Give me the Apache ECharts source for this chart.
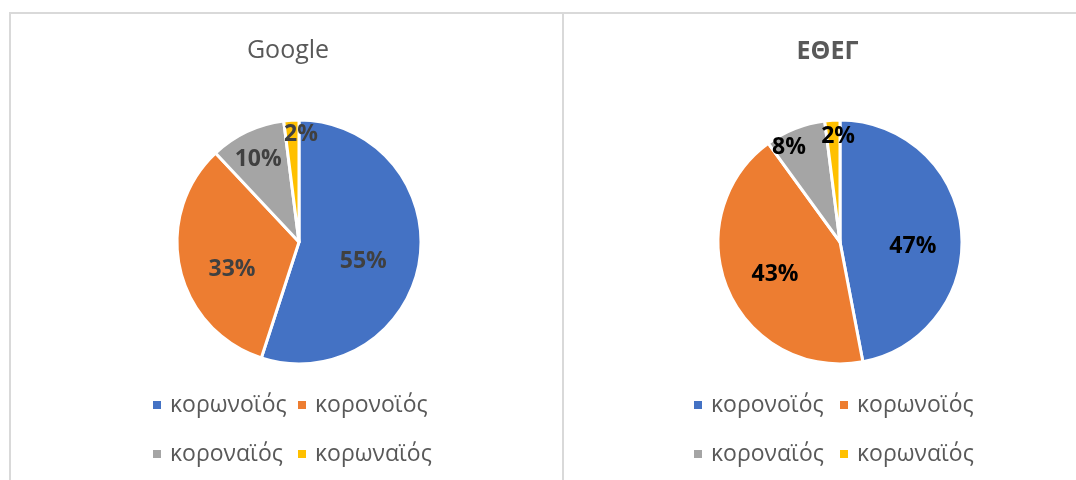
<!DOCTYPE html>
<html><head><meta charset="utf-8">
<script src="https://cdn.jsdelivr.net/npm/echarts@6/dist/echarts.min.js"></script>
<style>
html,body{margin:0;padding:0;background:#fff;width:1076px;height:480px;overflow:hidden;position:relative}
#c1{position:absolute;left:0;top:0;width:562px;height:480px}
#c2{position:absolute;left:562px;top:0;width:514px;height:480px}
.ln{position:absolute;background:#d9d9d9}
</style></head><body>
<div id="c1"></div><div id="c2"></div>
<div class="ln" style="left:9px;top:12px;width:1067px;height:2px"></div>
<div class="ln" style="left:9px;top:12px;width:2px;height:468px"></div>
<div class="ln" style="left:562px;top:12px;width:2px;height:468px"></div>
<script>
// ---- data ----
const googleTitle = 'Google';
const googleCategories = ['κορωνοϊός', 'κορονοϊός', 'κοροναϊός', 'κορωναϊός'];
const googleValues = [55, 33, 10, 2];

const ethegTitle = 'ΕΘΕΓ';
const ethegCategories = ['κορονοϊός', 'κορωνοϊός', 'κοροναϊός', 'κορωναϊός'];
const ethegValues = [47, 43, 8, 2];

// ---- styles ----
const sliceColors = ['#4472C4', '#ED7D31', '#A5A5A5', '#FFC000'];
const FONT = '"Open Sans", "Noto Sans", sans-serif';

function build(el, cfg) {
  const chart = echarts.init(el, null, { renderer: 'canvas' });
  const cats = cfg.categories;
  const mainData = cats.map((n, i) => ({ name: n, value: cfg.values[i], itemStyle: { color: sliceColors[i] } }));
  const series = [{
    type: 'pie', center: cfg.center, radius: [0, cfg.R], startAngle: 90, clockwise: true,
    data: mainData, label: { show: false }, labelLine: { show: false },
    itemStyle: { borderColor: '#ffffff', borderWidth: 3 },
    emphasis: { disabled: true }, silent: true, animation: false
  }];
  // label layers: one per slice, radius chosen so the inside label sits at the wanted radial fraction
  cfg.fracs.forEach((f, i) => {
    series.push({
      type: 'pie', center: cfg.center, radius: [0, 2 * f * cfg.R], startAngle: 90, clockwise: true,
      silent: true, animation: false, emphasis: { disabled: true }, percentPrecision: 0,
      itemStyle: { color: 'rgba(0,0,0,0)', borderWidth: 0 }, labelLine: { show: false },
      data: cats.map((n, j) => ({ name: n, value: cfg.values[j], label: { show: j === i } })),
      label: {
        show: false, position: 'inside', formatter: '{d}%',
        fontFamily: FONT, fontWeight: 'bold', fontSize: 23, color: cfg.labelColor
      },
      labelLayout: { dx: cfg.nudge[i][0], dy: cfg.nudge[i][1] }
    });
  });
  const legendText = { fontFamily: FONT, fontSize: 23, color: '#595959', lineHeight: 26, padding: [0, 0, 0, 3] };
  const mk = (idx) => idx.map(k => ({ name: cats[k], itemStyle: { color: sliceColors[k] } }));
  chart.setOption({
    animation: false,
    title: {
      text: cfg.title, left: cfg.titleX - 5, textAlign: 'center', top: cfg.titleTop,
      textStyle: { fontFamily: FONT, fontSize: cfg.titleSize, fontWeight: cfg.titleWeight, color: '#595959' }
    },
    legend: [
      { orient: 'vertical', left: cfg.legendX[0] - 5, top: 387, itemWidth: 10, itemHeight: 10, itemGap: 23,
        icon: 'rect', selectedMode: false, data: mk([0, 2]), textStyle: legendText },
      { orient: 'vertical', left: cfg.legendX[1] - 5, top: 387, itemWidth: 10, itemHeight: 10, itemGap: 23,
        icon: 'rect', selectedMode: false, data: mk([1, 3]), textStyle: legendText }
    ],
    series
  });
}

build(document.getElementById('c1'), {
  title: googleTitle, categories: googleCategories, values: googleValues,
  center: [299, 242], R: 122, fracs: [0.55, 0.58, 0.78, 0.9],
  nudge: [[-5, 8], [5, 11], [1, 6], [9, 5]],
  labelColor: '#404040', titleX: 288, titleTop: 33, titleSize: 25, titleWeight: 'normal',
  legendX: [151, 296]
});
build(document.getElementById('c2'), {
  title: ethegTitle, categories: ethegCategories, values: ethegValues,
  center: [278, 242], R: 122, fracs: [0.6, 0.6, 0.89, 0.88],
  nudge: [[-3, 12], [5, 2], [-10, 9], [5, 5]],
  labelColor: '#000000', titleX: 265.5, titleTop: 34, titleSize: 25, titleWeight: 'bold',
  legendX: [130, 276]
});
</script>
</body></html>
